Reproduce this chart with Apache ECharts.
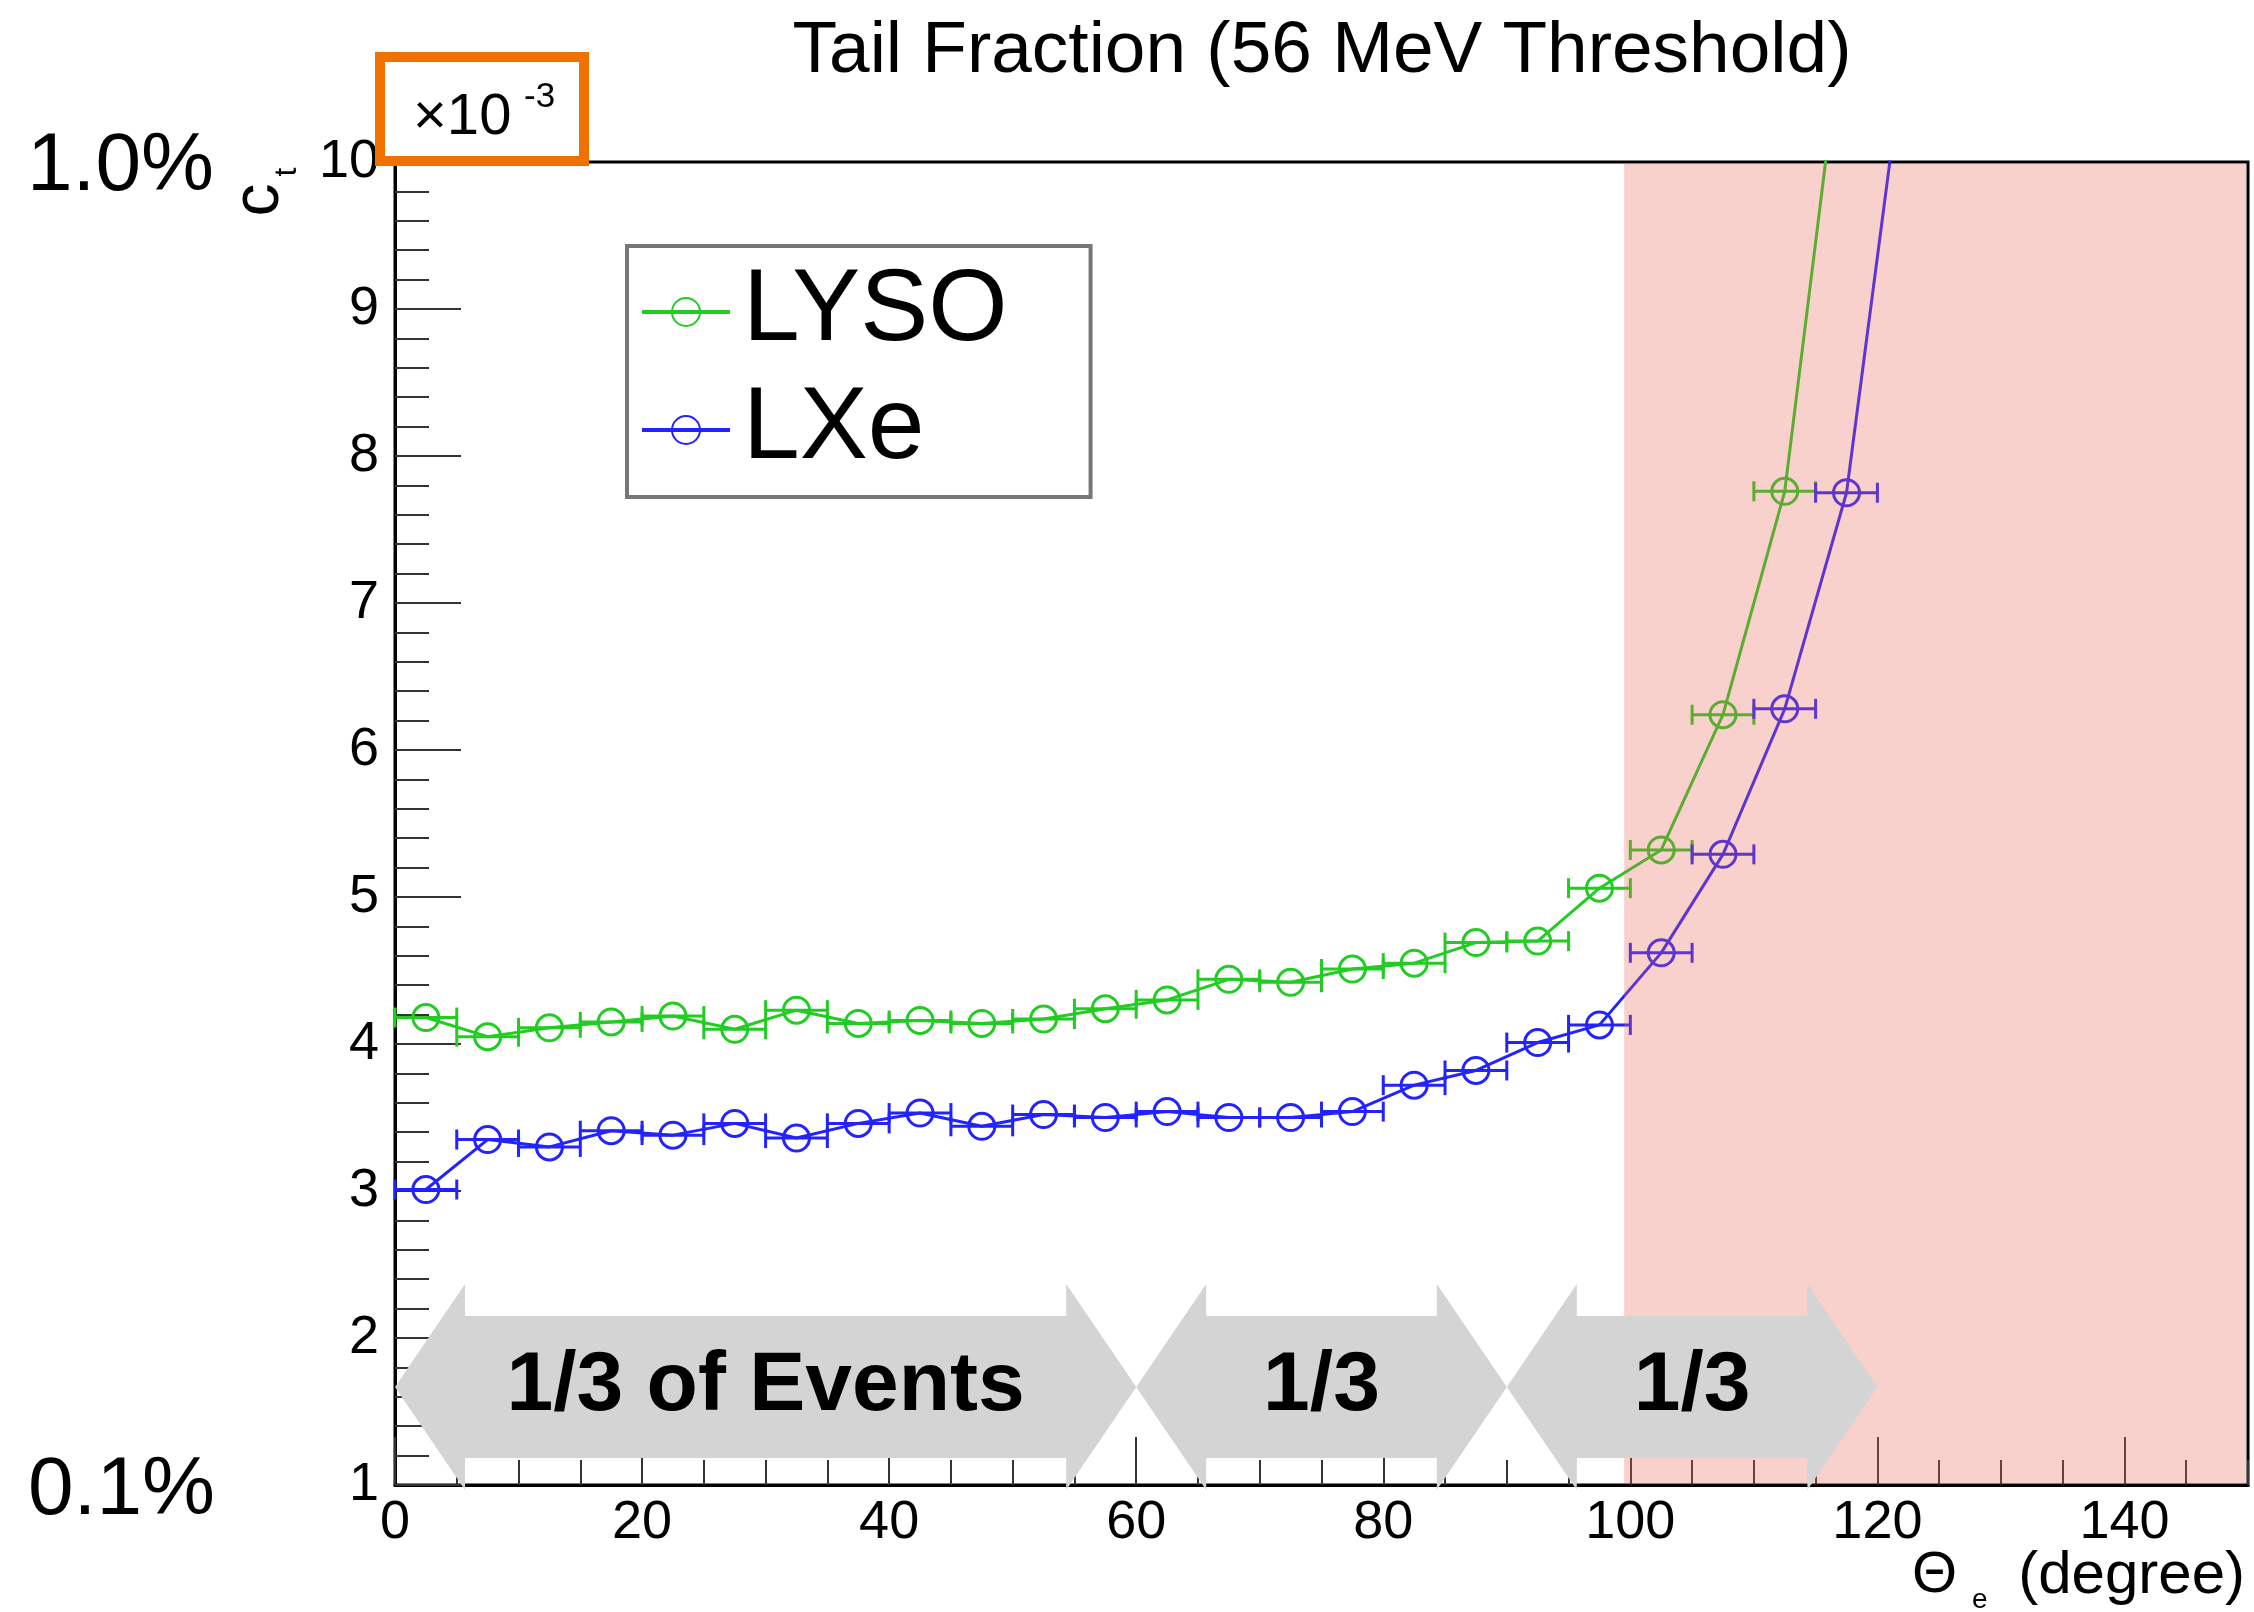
<!DOCTYPE html>
<html><head><meta charset="utf-8">
<script src="https://cdn.jsdelivr.net/npm/echarts@6/dist/echarts.min.js"></script>
<style>html,body{margin:0;padding:0;background:#fff}#c{width:2254px;height:1612px}</style>
</head><body><div id="c"></div>
<script>
// ---- data ----
const titleText = 'Tail Fraction (56 MeV Threshold)';
const angles = [2.5, 7.5, 12.5, 17.5, 22.5, 27.5, 32.5, 37.5, 42.5, 47.5, 52.5, 57.5, 62.5, 67.5, 72.5, 77.5, 82.5, 87.5, 92.5, 97.5, 102.5, 107.5, 112.5, 117.5, 122.5];
const lyso = [4.18, 4.05, 4.11, 4.15, 4.19, 4.10, 4.23, 4.14, 4.16, 4.14, 4.17, 4.24, 4.30, 4.44, 4.42, 4.51, 4.55, 4.69, 4.70, 5.06, 5.32, 6.24, 7.76, 11.15];
const lxe  = [3.01, 3.35, 3.30, 3.41, 3.38, 3.46, 3.36, 3.46, 3.53, 3.44, 3.52, 3.50, 3.54, 3.50, 3.50, 3.54, 3.72, 3.82, 4.01, 4.13, 4.62, 5.29, 6.28, 7.75, 10.96];
const binHalfWidth = 2.5;
const shadeRange = [99.5, 150];
const arrowFrom = [0, 60, 90];
const arrowTo = [60, 90, 120];
const arrowText = ['1/3 of Events', '1/3', '1/3'];

const FONT = '"Liberation Sans", Arial, Helvetica, sans-serif';
const GREEN = '#22cc22';
const BLUE = '#2323ff';

const chart = echarts.init(document.getElementById('c'), null, {renderer: 'canvas'});

function pairs(ys) { return ys.map((v, i) => [angles[i], v]); }

function errorBars(color) {
  return function (params, api) {
    const x = api.value(0), y = api.value(1);
    if (y > 10) return null;
    const p0 = api.coord([x - binHalfWidth, y]);
    const p1 = api.coord([x + binHalfWidth, y]);
    const cap = 10;
    const st = {stroke: color, lineWidth: 3};
    return {type: 'group', children: [
      {type: 'line', shape: {x1: p0[0], y1: p0[1], x2: p1[0], y2: p1[1]}, style: st},
      {type: 'line', shape: {x1: p0[0], y1: p0[1] - cap, x2: p0[0], y2: p0[1] + cap}, style: st},
      {type: 'line', shape: {x1: p1[0], y1: p1[1] - cap, x2: p1[0], y2: p1[1] + cap}, style: st}
    ]};
  };
}

// measure title to center it over the plot
const mctx = document.createElement('canvas').getContext('2d');
mctx.font = '73px ' + FONT;
const titleW = mctx.measureText(titleText).width;

const option = {
  animation: false,
  backgroundColor: '#fff',
  title: {
    text: titleText, left: 1322 - titleW / 2, top: 15, padding: 0,
    textStyle: {fontSize: 73, fontWeight: 'normal', color: '#000', fontFamily: FONT}
  },
  grid: {left: 395, right: 6, top: 162, bottom: 127, show: true, borderColor: '#000', borderWidth: 3, backgroundColor: 'transparent'},
  legend: {
    data: ['LYSO', 'LXe'],
    orient: 'vertical', left: 627, top: 246,
    padding: [15, 83, 16, 13],
    itemGap: 16, itemWidth: 88, itemHeight: 35,
    backgroundColor: '#fff', borderColor: '#777', borderWidth: 4,
    lineStyle: {width: 4},
    textStyle: {fontSize: 102, color: '#000', fontFamily: FONT, lineHeight: 100, padding: [0, 0, 0, 8]},
    selectedMode: false
  },
  xAxis: [{
    type: 'value', min: 0, max: 150, interval: 20,
    position: 'bottom',
    axisLine: {onZero: false, lineStyle: {color: '#000', width: 3}},
    axisTick: {inside: true, length: 48, lineStyle: {color: '#333', width: 2}},
    axisLabel: {margin: 11, fontSize: 54, color: '#000', fontFamily: FONT, showMaxLabel: false},
    splitLine: {show: false}
  }, {
    type: 'value', min: 0, max: 150, interval: 5,
    position: 'bottom',
    axisLine: {show: false},
    axisTick: {inside: true, length: 25, lineStyle: {color: '#333', width: 2}},
    axisLabel: {show: false},
    splitLine: {show: false}
  }],
  yAxis: {
    type: 'value', min: 1, max: 10, interval: 1,
    axisLine: {onZero: false, lineStyle: {color: '#000', width: 3}},
    axisTick: {inside: true, length: 66, lineStyle: {color: '#333', width: 2}},
    minorTick: {show: true, splitNumber: 5, length: 34, lineStyle: {color: '#333', width: 2}},
    axisLabel: {margin: 16, fontSize: 54, color: '#000', fontFamily: FONT},
    splitLine: {show: false}
  },
  graphic: [
    {type: 'rect', shape: {x: 380, y: 57, width: 204, height: 104}, style: {fill: 'transparent', stroke: '#f07000', lineWidth: 10}, z: 10},
    {type: 'text', x: 413, y: 118, style: {text: '×10', fontSize: 58, fontFamily: FONT, fill: '#000', align: 'left', verticalAlign: 'middle'}, z: 11},
    {type: 'text', x: 524, y: 97, style: {text: '-3', fontSize: 35, fontFamily: FONT, fill: '#000', align: 'left', verticalAlign: 'middle'}, z: 11},
    {type: 'text', x: 260, y: 200, rotation: Math.PI / 2, style: {text: 'c', fontSize: 66, fontFamily: FONT, fill: '#000', align: 'center', verticalAlign: 'middle'}},
    {type: 'text', x: 287, y: 172, rotation: Math.PI / 2, style: {text: 't', fontSize: 32, fontFamily: FONT, fill: '#000', align: 'center', verticalAlign: 'middle'}},
    {type: 'text', x: 27, y: 167, style: {text: '1.0%', fontSize: 82, fontFamily: FONT, fill: '#000', align: 'left', verticalAlign: 'middle'}},
    {type: 'text', x: 28, y: 1491, style: {text: '0.1%', fontSize: 82, fontFamily: FONT, fill: '#000', align: 'left', verticalAlign: 'middle'}},
    {type: 'text', x: 1912, y: 1576, style: {text: 'Θ', fontSize: 58, fontFamily: FONT, fill: '#000', align: 'left', verticalAlign: 'middle'}},
    {type: 'text', x: 1972, y: 1600, style: {text: 'e', fontSize: 28, fontFamily: FONT, fill: '#000', align: 'left', verticalAlign: 'middle'}},
    {type: 'text', x: 2245, y: 1576, style: {text: '(degree)', fontSize: 60, fontFamily: FONT, fill: '#000', align: 'right', verticalAlign: 'middle'}}
  ],
  series: [
    {
      name: 'LYSO-err', type: 'custom', z: 2, xAxisIndex: 0,
      data: pairs(lyso), renderItem: errorBars(GREEN), silent: true
    },
    {
      name: 'LXe-err', type: 'custom', z: 2, xAxisIndex: 0,
      data: pairs(lxe), renderItem: errorBars(BLUE), silent: true
    },
    {
      name: 'LYSO', type: 'line', z: 3, xAxisIndex: 0,
      data: pairs(lyso),
      symbol: 'circle', symbolSize: 26,
      lineStyle: {color: GREEN, width: 3},
      itemStyle: {color: 'transparent', borderColor: GREEN, borderWidth: 3},
      clip: true
    },
    {
      name: 'LXe', type: 'line', z: 3, xAxisIndex: 0,
      data: pairs(lxe),
      symbol: 'circle', symbolSize: 26,
      lineStyle: {color: BLUE, width: 3},
      itemStyle: {color: 'transparent', borderColor: BLUE, borderWidth: 3},
      clip: true
    },
    {
      name: 'shade', type: 'custom', z: 4, xAxisIndex: 0, silent: true,
      data: [shadeRange],
      renderItem: function (params, api) {
        const cs = params.coordSys;
        const a = api.coord([api.value(0), 10]);
        const b = api.coord([api.value(1), 1]);
        const x0 = a[0];
        const x1 = Math.min(b[0], cs.x + cs.width - 2);
        const y0 = cs.y + 2;
        const y1 = cs.y + cs.height - 2;
        return {type: 'rect', shape: {x: x0, y: y0, width: x1 - x0, height: y1 - y0}, style: {fill: 'rgba(232,98,85,0.3)'}};
      }
    },
    {
      name: 'arrows', type: 'custom', z: 5, xAxisIndex: 0, silent: true,
      data: arrowFrom.map((f, i) => [f, arrowTo[i]]),
      renderItem: function (params, api) {
        const cs = params.coordSys;
        const x0 = api.coord([api.value(0), 1])[0];
        const x1 = api.coord([api.value(1), 1])[0];
        const yb = cs.y + cs.height;
        const cy = yb - 98, hs = 71, hh = 103, hl = 70;
        return {type: 'group', children: [
          {type: 'polygon', shape: {points: [
            [x0, cy], [x0 + hl, cy - hh], [x0 + hl, cy - hs], [x1 - hl, cy - hs], [x1 - hl, cy - hh],
            [x1, cy], [x1 - hl, cy + hh], [x1 - hl, cy + hs], [x0 + hl, cy + hs], [x0 + hl, cy + hh]
          ]}, style: {fill: '#d4d4d4'}},
          {type: 'text', x: (x0 + x1) / 2, y: cy, style: {
            text: arrowText[params.dataIndex], fill: '#000', fontSize: 84, fontWeight: 'bold',
            fontFamily: FONT, align: 'center', verticalAlign: 'middle'}}
        ]};
      }
    }
  ]
};
chart.setOption(option);
</script>
</body></html>
